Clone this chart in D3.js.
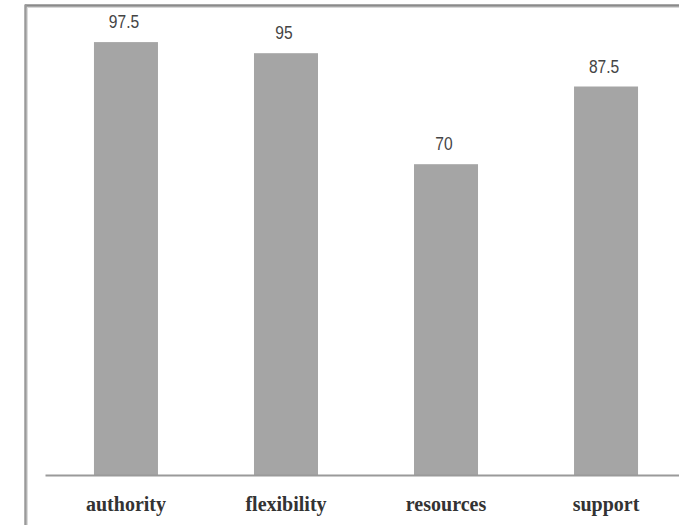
<!DOCTYPE html>
<html>
<head>
<meta charset="utf-8">
<script src="https://cdn.jsdelivr.net/npm/d3@7"></script>
<style>
  html, body { margin: 0; padding: 0; background: #fff; }
  svg { display: block; }
</style>
</head>
<body>
<svg id="chart" width="679" height="525"></svg>
<script>
const categories = ["authority", "flexibility", "resources", "support"];
const values = [97.5, 95, 70, 87.5];
const valueLabels = ["97.5", "95", "70", "87.5"];

const svg = d3.select("#chart");
const W = 679, H = 525;

// frame (top and left edges visible)
svg.append("line").attr("x1", 25).attr("x2", W + 5).attr("y1", 5.5).attr("y2", 5.5)
  .attr("stroke", "#8a8a8a").attr("stroke-width", 2.5);
svg.append("line").attr("x1", 25).attr("x2", W + 5).attr("y1", 7.5).attr("y2", 7.5)
  .attr("stroke", "#d8d8d8").attr("stroke-width", 1);
svg.append("line").attr("x1", 25.5).attr("x2", 25.5).attr("y1", 4.5).attr("y2", H + 5)
  .attr("stroke", "#9a9a9a").attr("stroke-width", 2.5);
svg.append("line").attr("x1", 27.5).attr("x2", 27.5).attr("y1", 7).attr("y2", H + 5)
  .attr("stroke", "#dcdcdc").attr("stroke-width", 1);

const x = d3.scaleBand()
  .domain(categories)
  .range([45, 687])
  .paddingInner(0.6)
  .paddingOuter(0.306);

const y = d3.scaleLinear().domain([0, 100]).range([475, 31]);

// bars
svg.append("g").selectAll("rect")
  .data(categories)
  .join("rect")
  .attr("x", d => x(d))
  .attr("width", x.bandwidth())
  .attr("y", (d, i) => y(values[i]))
  .attr("height", (d, i) => y(0) - y(values[i]))
  .attr("fill", "#a5a5a5");

// value labels
svg.append("g").selectAll("text")
  .data(categories)
  .join("text")
  .attr("transform", (d, i) => `translate(${x(d) + x.bandwidth() / 2 - 2},${y(values[i]) - 14}) scale(0.82,1)`)
  .attr("text-anchor", "middle")
  .attr("font-family", "'Liberation Sans', Arial, sans-serif")
  .attr("font-size", 19)
  .attr("fill", "#444")
  .text((d, i) => valueLabels[i]);

// x axis
const axis = svg.append("g")
  .attr("transform", `translate(0,${y(0)})`)
  .call(d3.axisBottom(x).tickSize(0).tickSizeOuter(0).tickPadding(22));
axis.select(".domain").attr("stroke", "#9a9a9a").attr("stroke-width", 2);
axis.selectAll(".tick text")
  .attr("font-family", "'Liberation Serif', 'Times New Roman', serif")
  .attr("font-weight", "bold")
  .attr("font-size", 20)
  .attr("fill", "#333");
</script>
</body>
</html>
